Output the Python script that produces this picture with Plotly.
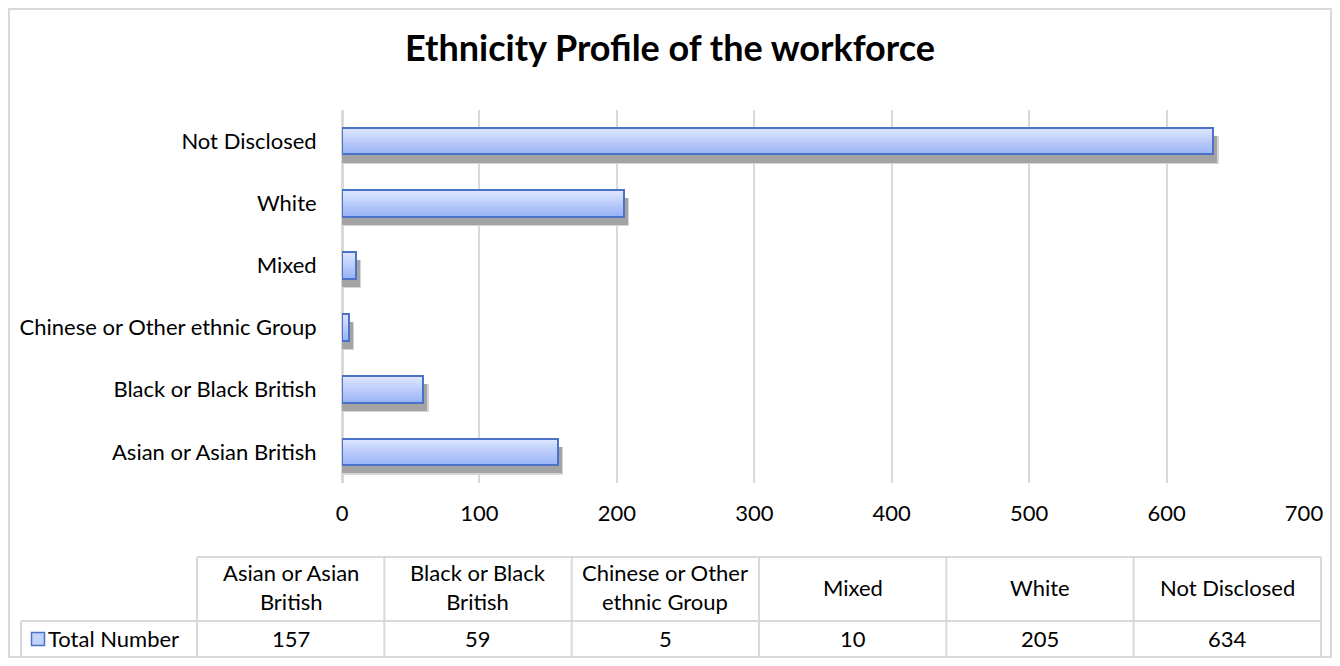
import plotly.graph_objects as go
import numpy as np

# ---------------- data ----------------
categories = ["Asian or Asian British", "Black or Black British",
              "Chinese or Other ethnic Group", "Mixed", "White", "Not Disclosed"]
values = [157, 59, 5, 10, 205, 634]
series_name = "Total Number"
table_headers = ["Asian or Asian<br>British", "Black or Black<br>British",
                 "Chinese or Other<br>ethnic Group", "Mixed", "White", "Not Disclosed"]
x_tick_vals = [0, 100, 200, 300, 400, 500, 600, 700]
chart_title = "Ethnicity Profile of the workforce"

# ---------------- style / layout ----------------
OFF = 8                      # page body margin
W, H = 1340 - 2 * OFF, 666 - 2 * OFF
FONT = "Lato"
FS = 22
TXT = "#000000"
GRID = "#d9d9d9"
BAR_W = 0.43
N_STRIPS = 14
TOP_RGB = np.array([223, 231, 255])
BOT_RGB = np.array([156, 181, 246])
EDGE = "#4a72c6"


def X(p):
    return (p - OFF) / W


def Y(p):
    return 1 - (p - OFF) / H


fig = go.Figure()

# soft outer shadow
fig.add_trace(go.Bar(
    y=categories, x=[v + 4 for v in values], base=0, orientation="h",
    width=BAR_W + 0.02, offset=-BAR_W / 2 - 0.15,
    marker=dict(color="#d6d6d6", line=dict(width=0)),
    hoverinfo="skip", showlegend=False))
# main shadow
fig.add_trace(go.Bar(
    y=categories, x=[v + 3 for v in values], base=0, orientation="h",
    width=BAR_W, offset=-BAR_W / 2 - 0.13,
    marker=dict(color="#a3a3a3", line=dict(width=0)),
    hoverinfo="skip", showlegend=False))

# gradient fill as thin horizontal strips
ws = BAR_W / N_STRIPS
for i in range(N_STRIPS):
    t = i / (N_STRIPS - 1)
    rgb = (TOP_RGB * (1 - t) + BOT_RGB * t).round().astype(int)
    lo = BAR_W / 2 - (i + 1) * ws
    w = min(ws * 1.4, BAR_W / 2 - lo)
    fig.add_trace(go.Bar(
        y=categories, x=values, orientation="h",
        width=w, offset=lo,
        marker=dict(color=f"rgb({rgb[0]},{rgb[1]},{rgb[2]})", line=dict(width=0)),
        hoverinfo="skip", showlegend=False))

# outline
fig.add_trace(go.Bar(
    y=categories, x=values, orientation="h", name=series_name,
    width=BAR_W, offset=-BAR_W / 2,
    marker=dict(color="rgba(0,0,0,0)", line=dict(color=EDGE, width=2)),
    showlegend=False))

# ---------------- data table (lines + text) ----------------
T_LEFT, T_COL0, T_RIGHT = 21, 197, 1321
T_TOP, T_MID, T_BOT = 557, 621, 657
ncol = len(categories)
cw = (T_RIGHT - T_COL0) / ncol
shapes = []
ln = dict(color=GRID, width=2)
# horizontal lines
shapes.append(dict(type="line", xref="paper", yref="paper",
                   x0=X(T_COL0), x1=X(T_RIGHT), y0=Y(T_TOP), y1=Y(T_TOP), line=ln))
for yy in (T_MID, T_BOT):
    shapes.append(dict(type="line", xref="paper", yref="paper",
                       x0=X(T_LEFT), x1=X(T_RIGHT), y0=Y(yy), y1=Y(yy), line=ln))
# vertical lines
shapes.append(dict(type="line", xref="paper", yref="paper",
                   x0=X(T_LEFT), x1=X(T_LEFT), y0=Y(T_MID), y1=Y(T_BOT), line=ln))
for j in range(ncol + 1):
    xx = T_COL0 + j * cw
    shapes.append(dict(type="line", xref="paper", yref="paper",
                       x0=X(xx), x1=X(xx), y0=Y(T_TOP), y1=Y(T_BOT), line=ln))
# legend key swatch in table row header
shapes.append(dict(type="rect", xref="paper", yref="paper",
                   x0=X(31.5), x1=X(44.5), y0=Y(645.5), y1=Y(632.5),
                   fillcolor="#c2d2fb", line=dict(color=EDGE, width=1.5)))
# outer chart border
shapes.append(dict(type="rect", xref="paper", yref="paper",
                   x0=1 / W, x1=1 - 1 / W, y0=1 / H, y1=1 - 1 / H,
                   line=dict(color=GRID, width=2), fillcolor="rgba(0,0,0,0)",
                   layer="below"))

annotations = []
hdr_y = (T_TOP + T_MID) / 2 - 2
row_y = (T_MID + T_BOT) / 2 - 1
for j, (hdr, val) in enumerate(zip(table_headers, values)):
    cx = T_COL0 + (j + 0.5) * cw
    annotations.append(dict(text=hdr, x=X(cx), y=Y(hdr_y), xref="paper", yref="paper",
                            xanchor="center", yanchor="middle", align="center",
                            showarrow=False, font=dict(family=FONT, size=FS, color=TXT)))
    annotations.append(dict(text=str(val), x=X(cx), y=Y(row_y), xref="paper", yref="paper",
                            xanchor="center", yanchor="middle", align="center",
                            showarrow=False, font=dict(family=FONT, size=FS, color=TXT)))
annotations.append(dict(text=series_name, x=X(46), y=Y(row_y), xref="paper", yref="paper",
                        xanchor="left", yanchor="middle", align="left",
                        showarrow=False, font=dict(family=FONT, size=FS, color=TXT)))

fig.update_layout(
    template="none",
    width=W, height=H,
    autosize=False,
    margin=dict(l=0, r=0, t=0, b=0, pad=0, autoexpand=False),
    paper_bgcolor="white", plot_bgcolor="white",
    barmode="overlay", bargap=0,
    showlegend=False,
    font=dict(family=FONT, size=FS, color=TXT),
    title=dict(text=f"<b>{chart_title}</b>", x=0.5, xanchor="center",
               y=Y(48), yanchor="middle", yref="container",
               font=dict(family=FONT, size=36, color=TXT)),
    xaxis=dict(domain=[X(342), X(1304)], range=[0, 700], automargin=False,
               tickvals=x_tick_vals, showgrid=True, gridcolor=GRID, gridwidth=2,
               zeroline=True, zerolinecolor=GRID, zerolinewidth=3,
               showline=False,
               ticks="outside", ticklen=11, tickcolor="rgba(0,0,0,0)",
               tickfont=dict(family=FONT, size=FS, color=TXT),
               anchor="y", fixedrange=True),
    yaxis=dict(domain=[Y(483), Y(110)], automargin=False,
               categoryorder="array", categoryarray=categories,
               range=[-0.5, len(categories) - 0.5],
               showgrid=False, zeroline=False, showline=False,
               ticks="outside", ticklen=20, tickcolor="rgba(0,0,0,0)",
               tickfont=dict(family=FONT, size=FS, color=TXT),
               anchor="x", fixedrange=True),
    shapes=shapes,
    annotations=annotations,
)

fig.write_html("out.html")
